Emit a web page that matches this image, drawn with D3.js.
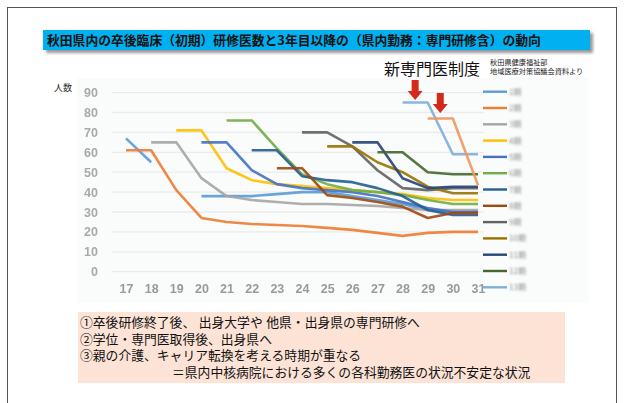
<!DOCTYPE html>
<html><head><meta charset="utf-8">
<script src="https://cdn.jsdelivr.net/npm/d3@7"></script>
<style>
html,body{margin:0;padding:0;background:#fff;}
svg{display:block;}
</style></head>
<body>
<svg id="c" width="625" height="403"></svg>
<script>
// Fiscal years (平成) on the x axis
const years = [17,18,19,20,21,22,23,24,25,26,27,28,29,30,31];
const yTicks = [0,10,20,30,40,50,60,70,80,90];

// Number of doctors per cohort, one value per year (null = no data)
const s1  = [67,55,null,38,38,38,39,40,40,38,36,34,31,30,30];
const s2  = [61,61,41,27,25,24,23.5,23,22,21,19.5,18,19.5,20,20];
const s3  = [null,65,65,47,38,36,35,34,34,33.5,33,32,31,31,31];
const s4  = [null,null,71,71,52,46,44,43,42,41,40,39,37,36,36];
const s5  = [null,null,null,65,65,51,44,42,41,40,38,35,32,30,30];
const s6  = [null,null,null,null,76,76,62,49,44,41,40,38.5,36,34,34];
const s7  = [null,null,null,null,null,61,61,48,46,45,42,38,31,28.5,28.5];
const s8  = [null,null,null,null,null,null,52,52,38.5,37,35,32.7,27,29.5,29.5];
const s9  = [null,null,null,null,null,null,null,70,70,63,51,42,41,42,42];
const s10 = [null,null,null,null,null,null,null,null,63,63,55,50,42.7,39.4,39.4];
const s11 = [null,null,null,null,null,null,null,null,null,65,65,47,42,42.7,42.7];
const s12 = [null,null,null,null,null,null,null,null,null,null,60,60,50,49,49];
const s13 = [null,null,null,null,null,null,null,null,null,null,null,85,85,59,59];
const s14 = [null,null,null,null,null,null,null,null,null,null,null,null,77,77,43.5];

const seriesValues = [s1,s2,s3,s4,s5,s6,s7,s8,s9,s10,s11,s12,s13,s14];
const seriesColors = ["#5B9BD5","#ED7D31","#A5A5A5","#FFC000","#4472C4","#70AD47",
                      "#255E91","#9E480E","#636363","#997300","#264478","#43682B",
                      "#7CAFDD","#F1975A"];
const legendLabels = ["1期","2期","3期","4期","5期","6期","7期","8期","9期","10期","11期","12期","13期"];

const titleText = "秋田県内の卒後臨床（初期）研修医数と3年目以降の（県内勤務：専門研修含）の動向";
const headText = "新専門医制度";
const sourceLines = ["秋田県健康福祉部","地域医療対策協議会資料より"];
const noteLines = [
  "①卒後研修終了後、 出身大学や 他県・出身県の専門研修へ",
  "②学位・専門医取得後、出身県へ",
  "③親の介護、キャリア転換を考える時期が重なる",
  "＝県内中核病院における多くの各科勤務医の状況不安定な状況"
];
const arrowYears = [28.5, 29.5];

const svg = d3.select("#c");
const JP = "'Noto Sans CJK JP','Noto Sans',sans-serif";
const JPN = "'Liberation Sans','Noto Sans CJK JP',sans-serif";

const defs = svg.append("defs");
function blur(id, sd){
  defs.append("filter").attr("id",id).attr("filterUnits","userSpaceOnUse")
    .attr("x",-400).attr("y",-400).attr("width",1400).attr("height",1200)
    .append("feGaussianBlur").attr("stdDeviation",sd);
}
blur("soft",0.6);
blur("softer",0.85);
blur("shadow",1.5);

// Outer frame
svg.append("rect").attr("x",7.5).attr("y",7.5).attr("width",609).attr("height",420)
  .attr("fill","none").attr("stroke","#555").attr("stroke-width",1);

// Title banner
svg.append("rect").attr("x",46).attr("y",33).attr("width",547).attr("height",20)
  .attr("fill","#999").attr("filter","url(#shadow)");
svg.append("rect").attr("x",43).attr("y",30).attr("width",547).attr("height",20).attr("fill","#00B0F0");
svg.append("text").attr("x",47).attr("y",45).text(titleText)
  .attr("font-family",JP).attr("font-weight","bold").attr("font-size",12.8).attr("fill","#111");

// Heading and source
svg.append("text").attr("x",384).attr("y",75).text(headText)
  .attr("font-family",JP).attr("font-size",16).attr("fill","#111");
sourceLines.forEach((t,i)=>{
  svg.append("text").attr("x",490).attr("y",65+i*9).text(t)
    .attr("font-family",JPN).attr("font-size",7.2).attr("fill","#222");
});

// Chart
const x = d3.scaleLinear().domain([17,31]).range([126,478]);
const y = d3.scaleLinear().domain([0,90]).range([271.7,92.6]);

svg.append("rect").attr("x",77).attr("y",78).attr("width",512).attr("height",225)
  .attr("fill","#f7f8f9").attr("opacity",0.6);

// gridlines
svg.append("g").attr("filter","url(#soft)").selectAll("line").data(yTicks).join("line")
  .attr("x1",112).attr("x2",484).attr("y1",d=>y(d)).attr("y2",d=>y(d))
  .attr("stroke","#ebebeb").attr("stroke-width",1.3);

// y axis labels
const yAxis = svg.append("g").attr("transform","translate(98,0)")
  .call(d3.axisLeft(y).tickValues(yTicks).tickSize(0).tickPadding(0));
yAxis.select(".domain").remove();
yAxis.attr("filter","url(#soft)");
yAxis.selectAll("text").attr("font-family","'Liberation Sans',Arial,sans-serif")
  .attr("font-size",12.5).attr("font-weight","bold").attr("fill","#a9a9a9");

svg.append("text").attr("x",54).attr("y",91).text("人数")
  .attr("font-family",JP).attr("font-size",9).attr("fill","#222");

// x axis labels
const xAxis = svg.append("g").attr("transform","translate(0,284)")
  .call(d3.axisBottom(x).tickValues(years).tickFormat(d3.format("d")).tickSize(0).tickPadding(0));
xAxis.select(".domain").remove();
xAxis.attr("filter","url(#soft)");
xAxis.selectAll("text").attr("font-family","'Liberation Sans',Arial,sans-serif")
  .attr("font-size",12.5).attr("font-weight","bold").attr("fill","#9a9a9a");

// cohort lines
const line = d3.line().defined(d=>d.v!=null).x(d=>x(d.yr)).y(d=>y(d.v));
const lines = svg.append("g").attr("filter","url(#soft)");
seriesValues.forEach((vals,i)=>{
  lines.append("path")
    .attr("d", line(vals.map((v,j)=>({yr:years[j], v}))))
    .attr("fill","none").attr("stroke",seriesColors[i]).attr("stroke-width",2.6)
    .attr("stroke-linejoin","round").attr("stroke-linecap","butt").attr("opacity",0.9);
});

// legend
const lgLines = svg.append("g").attr("filter","url(#soft)");
const lgText = svg.append("g").attr("filter","url(#softer)");
legendLabels.forEach((t,i)=>{
  const ly = 91.7 + i*16.3;
  lgLines.append("line").attr("x1",483).attr("x2",507).attr("y1",ly).attr("y2",ly)
    .attr("stroke",seriesColors[i]).attr("stroke-width",2.4);
  lgText.append("text").attr("x",509).attr("y",ly+3).text(t)
    .attr("font-family",JP).attr("font-size",8).attr("fill","#8a8a8a");
});

// arrows marking the new specialist system
const arrows = svg.append("g").attr("filter","url(#soft)");
arrowYears.forEach((yr,i)=>{
  const cx = x(yr), top = 80 + i*13, h = 20;
  const p = d3.path();
  p.moveTo(cx-3.5, top); p.lineTo(cx+3.5, top); p.lineTo(cx+3.5, top+h*0.55);
  p.lineTo(cx+7.5, top+h*0.55); p.lineTo(cx, top+h); p.lineTo(cx-7.5, top+h*0.55);
  p.lineTo(cx-3.5, top+h*0.55); p.closePath();
  arrows.append("path").attr("d",p.toString()).attr("fill","#D42A1E");
});

// note box
svg.append("rect").attr("x",78).attr("y",312).attr("width",487).attr("height",71).attr("fill","#FCE3D6");
noteLines.forEach((t,i)=>{
  svg.append("text").attr("x", i===3 ? 172 : 80).attr("y",327+i*16.5).text(t)
    .attr("font-family",JPN).attr("font-size",12.8).attr("fill","#111");
});
</script>
</body></html>
